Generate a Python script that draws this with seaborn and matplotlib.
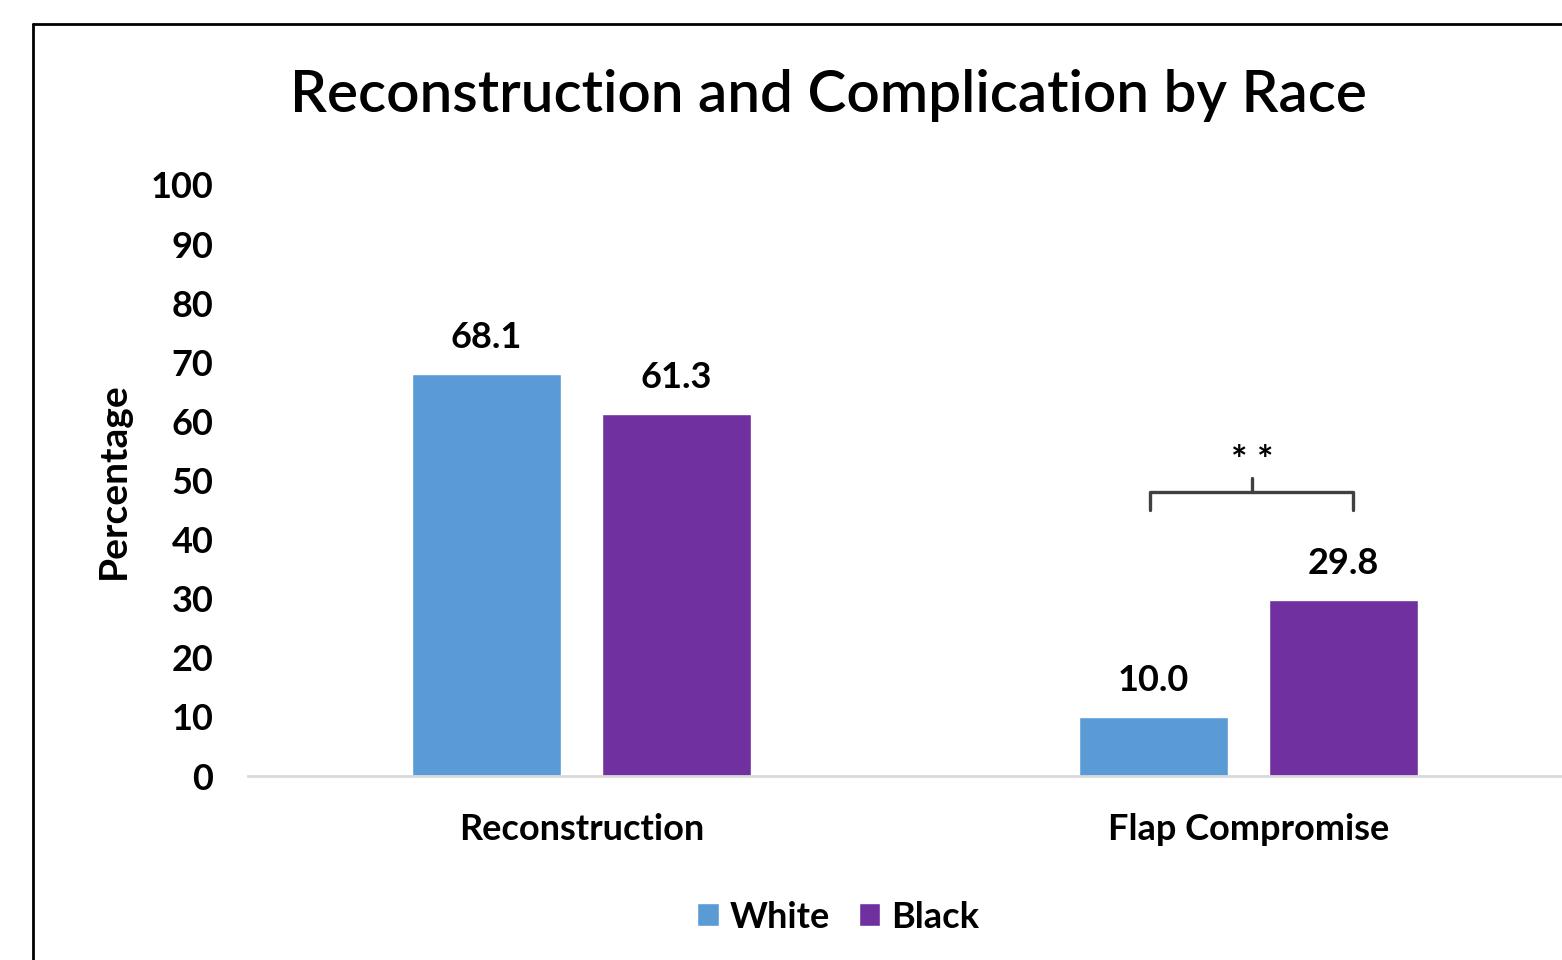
import matplotlib
matplotlib.use("Agg")
import matplotlib.pyplot as plt
import pandas as pd
import seaborn as sns
from matplotlib.lines import Line2D

# data
categories = ["Reconstruction", "Flap Compromise"]
races = ["White", "Black"]
white_pct = [68.1, 10.0]
black_pct = [61.3, 29.8]
race_colors = ["#5B9BD5", "#7030A0"]

df = pd.DataFrame({
    "category": categories * 2,
    "race": ["White"] * 2 + ["Black"] * 2,
    "pct": white_pct + black_pct,
})

sns.set_style("white")
plt.rcParams["font.family"] = ["Lato", "DejaVu Sans"]
plt.rcParams["text.color"] = "black"
plt.rcParams["axes.labelcolor"] = "black"
plt.rcParams["xtick.color"] = "black"
plt.rcParams["ytick.color"] = "black"

fig = plt.figure(figsize=(15.62, 9.6), dpi=100)
ax = fig.add_axes([248 / 1562, 1 - 776 / 960, 1 - 248 / 1562, (776 - 185) / 960])

sns.barplot(data=df, x="category", y="pct", hue="race", order=categories,
            hue_order=races, palette=race_colors, width=0.569, gap=0.214,
            saturation=1, ax=ax, legend=True)

fs = 26
ax.set_ylim(0, 100)
ax.set_xlim(-0.5, 1.47)
ax.set_yticks(range(0, 101, 10))
ax.tick_params(axis="y", length=0, pad=25, labelsize=fs)
ax.tick_params(axis="x", length=0, pad=27, labelsize=fs)
for lab in ax.get_xticklabels() + ax.get_yticklabels():
    lab.set_fontweight("bold")
ax.set_xlabel("")
ax.set_ylabel("Percentage", fontsize=28, fontweight="bold", va="center")
ax.yaxis.set_label_coords((113 - 248) / 1314, 0.5)
for side in ["left", "right", "top"]:
    ax.spines[side].set_visible(False)
ax.spines["bottom"].set_color("#D9D9D9")
ax.spines["bottom"].set_linewidth(2)

for cont in ax.containers:
    ax.bar_label(cont, fmt="%.1f", padding=14, fontsize=fs, fontweight="bold")

# significance brace over Flap Compromise
x_left = ax.containers[0].patches[1].get_x() + ax.containers[0].patches[1].get_width() / 2
x_right = ax.containers[1].patches[1].get_x() + ax.containers[1].patches[1].get_width() / 2
x_left -= 0.005
x_right += 0.015
x_mid = (x_left + x_right) / 2
ax.plot([x_left, x_left, x_right, x_right], [45, 48, 48, 45], color="#404040", lw=2.4)
ax.plot([x_mid, x_mid], [48, 50.5], color="#404040", lw=2.4)
ax.text(x_mid, 53.2, "* *", ha="center", va="center", fontsize=28, fontweight="bold")

ax.legend(loc="center", bbox_to_anchor=(0.449, -0.2386), ncol=2, frameon=False,
          handlelength=0.6, handleheight=0.6, handletextpad=0.3,
          columnspacing=0.8, prop={"weight": "bold", "size": fs})

fig.text(828 / 1562, 1 - 95 / 960, "Reconstruction and Complication by Race",
         ha="center", va="center", fontsize=42, fontweight="semibold")

# outer frame (left and top edges visible)
fig.add_artist(Line2D([33 / 1562, 33 / 1562], [0, 1 - 24 / 960], color="black", lw=2,
                      transform=fig.transFigure))
fig.add_artist(Line2D([33 / 1562, 1], [1 - 24 / 960, 1 - 24 / 960], color="black", lw=2,
                      transform=fig.transFigure))

fig.savefig("out.png", dpi=100)
